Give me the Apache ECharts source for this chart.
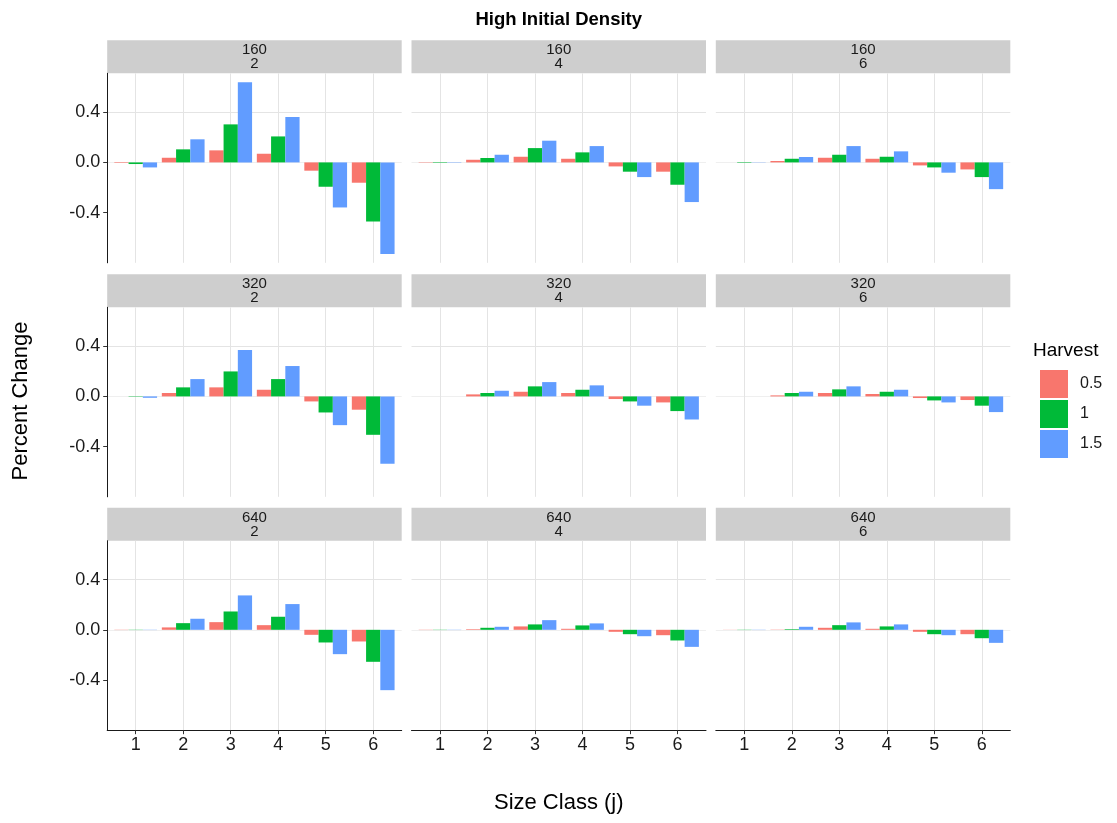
<!DOCTYPE html>
<html><head><meta charset="utf-8">
<script src="https://cdn.jsdelivr.net/npm/echarts@6/dist/echarts.min.js"></script>
<style>html,body{margin:0;padding:0;background:#fff}#c{width:1117px;height:823px}</style>
</head><body><div id="c"></div>
<script>
// ---------- data ----------
const sizeClasses = ['1', '2', '3', '4', '5', '6'];
const harvestLevels = ['0.5', '1', '1.5'];
const densities = ['160', '320', '640'];
const periods = ['2', '4', '6'];
const yMajorTicks = [-0.4, 0, 0.4];

// each panel: [harvest 0.5, harvest 1, harvest 1.5], values for size classes 1..6
const p160_2 = [
  [-0.005, 0.037, 0.096, 0.069, -0.066, -0.162],
  [-0.013, 0.104, 0.303, 0.207, -0.194, -0.471],
  [-0.040, 0.184, 0.638, 0.362, -0.359, -0.729]
];
const p160_4 = [
  [-0.003, 0.021, 0.045, 0.029, -0.032, -0.074],
  [-0.004, 0.035, 0.114, 0.080, -0.074, -0.178],
  [-0.003, 0.061, 0.173, 0.130, -0.117, -0.316]
];
const p160_6 = [
  [0.000, 0.011, 0.037, 0.029, -0.024, -0.056],
  [-0.004, 0.029, 0.061, 0.045, -0.040, -0.117],
  [-0.002, 0.043, 0.130, 0.088, -0.082, -0.213]
];
const p320_2 = [
  [0.000, 0.027, 0.072, 0.053, -0.040, -0.106],
  [-0.003, 0.072, 0.199, 0.138, -0.128, -0.306],
  [-0.011, 0.138, 0.370, 0.242, -0.229, -0.537]
];
const p320_4 = [
  [0.000, 0.016, 0.037, 0.027, -0.021, -0.048],
  [0.000, 0.027, 0.080, 0.053, -0.040, -0.117],
  [0.000, 0.045, 0.114, 0.088, -0.074, -0.184]
];
const p320_6 = [
  [0.000, 0.008, 0.027, 0.019, -0.013, -0.029],
  [0.000, 0.027, 0.056, 0.037, -0.032, -0.074],
  [0.000, 0.037, 0.080, 0.053, -0.048, -0.125]
];
const p640_2 = [
  [-0.002, 0.019, 0.061, 0.037, -0.040, -0.093],
  [-0.002, 0.053, 0.146, 0.104, -0.101, -0.255],
  [-0.002, 0.088, 0.274, 0.205, -0.194, -0.481]
];
const p640_4 = [
  [-0.002, 0.005, 0.027, 0.008, -0.016, -0.043],
  [-0.002, 0.016, 0.043, 0.035, -0.035, -0.085],
  [-0.002, 0.024, 0.077, 0.051, -0.051, -0.136]
];
const p640_6 = [
  [-0.001, 0.002, 0.016, 0.008, -0.016, -0.035],
  [-0.002, 0.005, 0.037, 0.027, -0.035, -0.067],
  [-0.002, 0.024, 0.059, 0.043, -0.043, -0.104]
];
const panelData = [
  [p160_2, p160_4, p160_6],
  [p320_2, p320_4, p320_6],
  [p640_2, p640_4, p640_6]
];

// ---------- style / layout ----------
const colors = ['#F8766D', '#00BA38', '#619CFF'];
const FONT = 'Liberation Sans, Arial, sans-serif';
const TXT = '#1a1a1a';
const MAJOR = '#e4e4e4', MINOR = '#efefef', NONE = 'rgba(0,0,0,0)';
const U = 47.5;            // px per category step
const PW = 6.2 * U;        // panel width
const PH = 189.5;          // panel height
const colLeft = [107.2, 411.5, 715.8];
const rowTop = [73.3, 307.3, 540.7];
const STRIP = 33;
const Y_MIN = -0.8, Y_MAX = 0.71;

const grid = [], xAxis = [], yAxis = [], series = [], graphic = [];

for (let r = 0; r < 3; r++) {
  for (let c = 0; c < 3; c++) {
    const L = colLeft[c], T = rowTop[r];
    // background grid: full panel, horizontal gridlines, y axis, bottom axis line
    const bg = grid.length;
    grid.push({left: L, top: T, width: PW, height: PH, containLabel: false});
    xAxis.push({
      gridIndex: bg, type: 'value', min: 0, max: 1,
      axisLine: {show: r === 2, onZero: false, lineStyle: {color: TXT, width: 1}},
      axisTick: {show: false}, axisLabel: {show: false}, splitLine: {show: false}
    });
    yAxis.push({
      gridIndex: bg, type: 'value', min: Y_MIN, max: Y_MAX, interval: 0.2,
      axisLine: {show: c === 0, onZero: false, lineStyle: {color: TXT, width: 1}},
      axisTick: {show: c === 0, length: 4, customValues: yMajorTicks, lineStyle: {color: '#333'}},
      axisLabel: {
        show: c === 0, customValues: yMajorTicks, margin: 7,
        fontFamily: FONT, fontSize: 18, color: TXT,
        formatter: v => yMajorTicks.some(t => Math.abs(t - v) < 1e-6) ? v.toFixed(1) : ''
      },
      splitLine: {show: true, lineStyle: {width: 1,
        color: [NONE, MINOR, MAJOR, MINOR, MAJOR, MINOR, MAJOR, MINOR, NONE]}}
    });
    // foreground grid: categories centred 0.6 step from panel edges
    const fg = grid.length;
    grid.push({left: L + 0.6 * U, top: T, width: 5 * U, height: PH, containLabel: false});
    xAxis.push({
      gridIndex: fg, type: 'category', data: sizeClasses, boundaryGap: false,
      axisLine: {show: false, onZero: false},
      axisTick: {show: r === 2, length: 4, interval: 0, lineStyle: {color: '#333'}},
      axisLabel: {show: r === 2, interval: 0, margin: 6, fontFamily: FONT, fontSize: 18, color: TXT},
      splitLine: {show: true, interval: 0, lineStyle: {color: MAJOR, width: 1}}
    });
    yAxis.push({gridIndex: fg, type: 'value', min: Y_MIN, max: Y_MAX, show: false});
    const pd = panelData[r][c];
    for (let h = 0; h < 3; h++) {
      series.push({
        type: 'bar', name: harvestLevels[h], xAxisIndex: fg, yAxisIndex: fg,
        data: pd[h], barGap: '0%', barCategoryGap: '10%', clip: false,
        itemStyle: {color: colors[h]}, emphasis: {disabled: true}, silent: true
      });
    }
    // strip
    graphic.push({type: 'rect', shape: {x: L, y: T - STRIP, width: PW, height: STRIP},
      style: {fill: '#cecece'}, silent: true});
    graphic.push({type: 'text', x: L + PW / 2, y: T - STRIP / 2 + 0.5, silent: true,
      style: {text: densities[r] + '\n' + periods[c], align: 'center', verticalAlign: 'middle',
        fontFamily: FONT, fontSize: 15, lineHeight: 14, fill: TXT}});
  }
}

// titles
graphic.push({type: 'text', x: (colLeft[0] + colLeft[2] + PW) / 2, y: 20, silent: true,
  style: {text: 'High Initial Density', align: 'center', verticalAlign: 'middle',
    fontFamily: FONT, fontSize: 18.5, fontWeight: 'bold', fill: '#000'}});
graphic.push({type: 'text', x: (colLeft[0] + colLeft[2] + PW) / 2, y: 803, silent: true,
  style: {text: 'Size Class (j)', align: 'center', verticalAlign: 'middle',
    fontFamily: FONT, fontSize: 22, fill: '#000'}});
graphic.push({type: 'text', x: 21, y: 401, rotation: Math.PI / 2, silent: true,
  style: {text: 'Percent Change', align: 'center', verticalAlign: 'middle',
    fontFamily: FONT, fontSize: 22, fill: '#000'}});
graphic.push({type: 'text', x: 1033, y: 351, silent: true,
  style: {text: 'Harvest', align: 'left', verticalAlign: 'middle',
    fontFamily: FONT, fontSize: 19, fill: '#000'}});

const chart = echarts.init(document.getElementById('c'), null, {renderer: 'canvas'});
chart.setOption({
  animation: false,
  backgroundColor: '#fff',
  grid, xAxis, yAxis, series, graphic,
  legend: {
    data: harvestLevels, orient: 'vertical', left: 1040, top: 370, padding: 0,
    icon: 'rect', itemWidth: 28, itemHeight: 28, itemGap: 2, selectedMode: false,
    textStyle: {fontFamily: FONT, fontSize: 16, color: TXT, padding: [0, 0, 0, 7]}
  }
});
</script></body></html>
